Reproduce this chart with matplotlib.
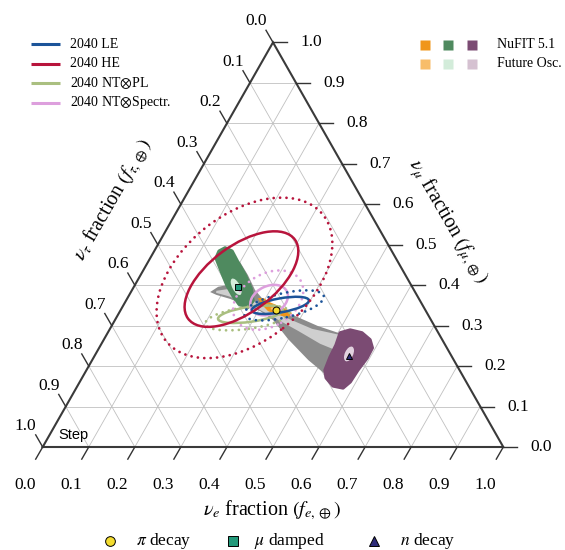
import numpy as np
import matplotlib
matplotlib.use('Agg')
import matplotlib.pyplot as plt
from matplotlib.patches import Polygon, Ellipse
from matplotlib.lines import Line2D

plt.rcParams['font.family'] = ['Liberation Serif', 'DejaVu Serif']
plt.rcParams['mathtext.fontset'] = 'stix'

# > allowed flavour regions, vertices given as (f_e, f_mu)
gray_e = [0.180, 0.200, 0.233, 0.267, 0.292, 0.331, 0.373, 0.448, 0.526, 0.545, 0.469,
          0.399, 0.343, 0.304, 0.258, 0.224, 0.189, 0.172, 0.183, 0.200, 0.202, 0.186]
gray_mu = [0.467, 0.457, 0.425, 0.388, 0.368, 0.346, 0.329, 0.299, 0.274, 0.166, 0.215,
           0.267, 0.314, 0.336, 0.353, 0.366, 0.376, 0.383, 0.396, 0.400, 0.413, 0.438]

light_gray_e = [0.184, 0.211, 0.238, 0.267, 0.310, 0.365, 0.439, 0.507, 0.528, 0.475,
                0.411, 0.330, 0.260, 0.216, 0.186]
light_gray_mu = [0.386, 0.391, 0.381, 0.366, 0.346, 0.321, 0.292, 0.277, 0.235, 0.255,
                 0.287, 0.326, 0.358, 0.373, 0.381]

# NuFIT 5.1 regions for each source
green_e = [0.143, 0.141, 0.150, 0.169, 0.195, 0.227, 0.257, 0.276, 0.272, 0.250, 0.227, 0.200, 0.170]
green_mu = [0.467, 0.484, 0.492, 0.484, 0.457, 0.425, 0.391, 0.361, 0.344, 0.353, 0.373, 0.400, 0.435]

orange_e = [0.283, 0.296, 0.314, 0.337, 0.358, 0.376, 0.372, 0.348, 0.321, 0.301]
orange_mu = [0.368, 0.368, 0.358, 0.349, 0.341, 0.331, 0.321, 0.326, 0.336, 0.351]

purple_e = [0.505, 0.523, 0.552, 0.578, 0.593, 0.594, 0.589, 0.587, 0.579, 0.555, 0.530, 0.518, 0.513, 0.511]
purple_mu = [0.282, 0.289, 0.282, 0.265, 0.245, 0.220, 0.190, 0.161, 0.146, 0.151, 0.171, 0.190, 0.222, 0.252]

# future oscillation regions: centre (f_e, f_mu), full axes, tilt
future_orange = (0.336, 0.339, 0.022, 0.008, -20)
future_green = (0.222, 0.396, 0.039, 0.017, -62)
future_purple = (0.550, 0.230, 0.034, 0.018, 65)

# 2040 sensitivity contours: centre (f_e, f_mu), full axes, tilt [inner, outer]
le_contours = [(0.341, 0.350, 0.126, 0.030, 10), (0.349, 0.350, 0.177, 0.052, 13)]
he_contours = [(0.224, 0.415, 0.287, 0.143, 36), (0.229, 0.418, 0.435, 0.273, 38)]
ntpl_contours = [(0.287, 0.328, 0.142, 0.032, 8), (0.285, 0.319, 0.185, 0.047, 8)]
ntsp_contours = [(0.310, 0.363, 0.086, 0.060, 25), (0.308, 0.363, 0.164, 0.112, 30)]

contour_labels = ['2040 LE', '2040 HE', '2040 NT$\\otimes$PL', '2040 NT$\\otimes$Spectr.']

# source benchmark points
source_names = ['$\\pi$ decay', '$\\mu$ damped', '$n$ decay']
source_e = [0.336, 0.227, 0.553]
source_mu = [0.339, 0.396, 0.225]

tick_values = np.round(np.arange(0, 1.01, 0.1), 1)

SQ3 = np.sqrt(3) / 2
W, H = 565, 550


def tern(f_e, f_mu):
    f_e = np.asarray(f_e, dtype=float)
    f_mu = np.asarray(f_mu, dtype=float)
    return f_e + f_mu / 2, f_mu * SQ3


def fig_xy(px, py):
    return px / W, 1 - py / H


def region(ax, f_e, f_mu, color, z, rounded=False):
    x, y = tern(f_e, f_mu)
    poly = Polygon(np.column_stack([x, y]), closed=True, facecolor=color,
                   edgecolor=color if rounded else 'none', lw=2.5 if rounded else 0,
                   joinstyle='round', zorder=z)
    ax.add_patch(poly)


def blob(ax, params, color, z):
    f_e, f_mu, w, h, tilt = params
    ax.add_patch(Ellipse(tern(f_e, f_mu), w, h, angle=tilt, facecolor=color,
                         edgecolor='none', zorder=z))


def contour(ax, params, color, dotted, z):
    f_e, f_mu, w, h, tilt = params
    ell = Ellipse(tern(f_e, f_mu), w, h, angle=tilt, fill=False, edgecolor=color,
                  lw=2.0 if dotted else 1.8, linestyle=(0, (0.01, 2.3)) if dotted else '-',
                  zorder=z)
    ell.set_capstyle('round')
    ax.add_patch(ell)


def draw_frame(ax):
    grid_kw = dict(color='#c0c0c0', lw=0.6, zorder=1)
    for v in tick_values[1:-1]:
        ax.plot(*tern([v, v], [0, 1 - v]), **grid_kw)
        ax.plot(*tern([0, 1 - v], [v, v]), **grid_kw)
        ax.plot(*tern([0, 1 - v], [1 - v, 0]), **grid_kw)
    ax.plot(*tern([0, 1, 0, 0], [0, 0, 1, 0]), color='#3a3a3a', lw=1.5, zorder=8,
            solid_joinstyle='miter', clip_on=False)

    tick_kw = dict(color='#333333', lw=1.0, zorder=8, clip_on=False)
    tx, ty = 14 / 460.6, 14 / 467.2
    for v in tick_values:
        # nu_e along the bottom edge
        x, y = tern(v, 0)
        ax.plot([x, x - 0.5 * tx], [y, y - SQ3 * ty], **tick_kw)
        ax.text(x - 18 / 460.6, y - 38 / 467.2, '%.1f' % v, ha='center', va='center', fontsize=12.5)
        # nu_mu along the right edge
        x, y = tern(1 - v, v)
        ax.plot([x, x + tx], [y, y], **tick_kw)
        ax.text(x + 38 / 460.6, y, '%.1f' % v, ha='center', va='center', fontsize=12.5)
        # nu_tau along the left edge
        x, y = tern(0, 1 - v)
        ax.plot([x, x - 0.5 * tx], [y, y + SQ3 * ty], **tick_kw)
        ax.text(x - 17 / 460.6, y + 21 / 467.2, '%.1f' % v, ha='center', va='center', fontsize=12.5)


def main():
    fig = plt.figure(figsize=(W / 100, H / 100), dpi=100)
    ax = fig.add_axes([42.7 / W, (H - 447) / H, 460.6 / W, 404.6 / H])
    ax.set_xlim(0, 1)
    ax.set_ylim(0, SQ3)
    ax.axis('off')

    draw_frame(ax)

    # source regions
    region(ax, gray_e, gray_mu, '#8c8c8c', 2)
    region(ax, light_gray_e, light_gray_mu, '#cfcfcf', 3)
    region(ax, green_e, green_mu, '#4f8a5f', 4, rounded=True)
    region(ax, orange_e, orange_mu, '#f0961b', 4)
    region(ax, purple_e, purple_mu, '#7b4b73', 4, rounded=True)
    blob(ax, future_orange, '#f8bd6a', 5)
    blob(ax, future_green, '#d3ecda', 5)
    blob(ax, future_purple, '#e2d2df', 5)

    # 2040 contours
    contour_sets = [ntpl_contours, ntsp_contours, le_contours, he_contours]
    contour_colors = ['#aabf80', '#dd9fdd', '#1c5499', '#b8143c']
    for z, (cs, col) in enumerate(zip(contour_sets, contour_colors)):
        contour(ax, cs[0], col, False, 6 + 0.1 * z)
        contour(ax, cs[1], col, True, 6 + 0.1 * z)

    # benchmark sources
    markers = ['o', 's', '^']
    marker_colors = ['#f3dc2f', '#22997a', '#2d2b78']
    for i in range(3):
        ax.plot(*tern(source_e[i], source_mu[i]), marker=markers[i], ms=5, mfc=marker_colors[i],
                mec='black', mew=0.7, zorder=9, ls='none')

    # axis titles
    fig.text(*fig_xy(272, 510), '$\\nu_e$ fraction $(f_{e,\\oplus})$', ha='center', va='center',
             fontsize=14.5)
    fig.text(*fig_xy(113, 200), '$\\nu_\\tau$ fraction $(f_{\\tau,\\oplus})$', ha='center',
             va='center', fontsize=14.5, rotation=60, rotation_mode='anchor')
    fig.text(*fig_xy(448, 222), '$\\nu_\\mu$ fraction $(f_{\\mu,\\oplus})$', ha='center',
             va='center', fontsize=14.5, rotation=-60, rotation_mode='anchor')
    fig.text(*fig_xy(58, 435), 'Step', ha='left', va='center', fontsize=10.5,
             family='Liberation Sans')

    # legend: 2040 contours
    legend_colors = ['#1c5499', '#b8143c', '#aabf80', '#dd9fdd']
    for i, (lab, col) in enumerate(zip(contour_labels, legend_colors)):
        y = 44 + 19.5 * i
        x0, y0 = fig_xy(31, y)
        x1, _ = fig_xy(60, y)
        fig.add_artist(Line2D([x0, x1], [y0, y0], transform=fig.transFigure, color=col, lw=2.2,
                              solid_capstyle='butt'))
        fig.text(*fig_xy(70, y), lab, ha='left', va='center', fontsize=10)

    # legend: oscillation regions
    dark = ['#f0961b', '#4f8a5f', '#7b4b73']
    light = ['#f8bd6a', '#d3ecda', '#d5c1d1']
    for row, (cols, lab) in enumerate([(dark, 'NuFIT 5.1'), (light, 'Future Osc.')]):
        y = 44.5 + 19.3 * row
        for px, col in zip([425, 448, 472], cols):
            fig.add_artist(Line2D([fig_xy(px, y)[0]], [fig_xy(px, y)[1]], transform=fig.transFigure,
                                  marker='s', ms=7, mfc=col, mec='none', ls='none'))
        fig.text(*fig_xy(497, y), lab, ha='left', va='center', fontsize=10)

    # legend: sources
    for px, tx, m, col, lab in zip([110, 233, 374], [136, 254, 400], markers, marker_colors,
                                   source_names):
        fig.add_artist(Line2D([fig_xy(px, 541)[0]], [fig_xy(px, 541)[1]], transform=fig.transFigure,
                              marker=m, ms=7, mfc=col, mec='black', mew=0.7, ls='none'))
        fig.text(*fig_xy(tx, 541), lab, ha='left', va='center', fontsize=12.5)

    fig.savefig('out.png', dpi=100)


if __name__ == '__main__':
    main()
